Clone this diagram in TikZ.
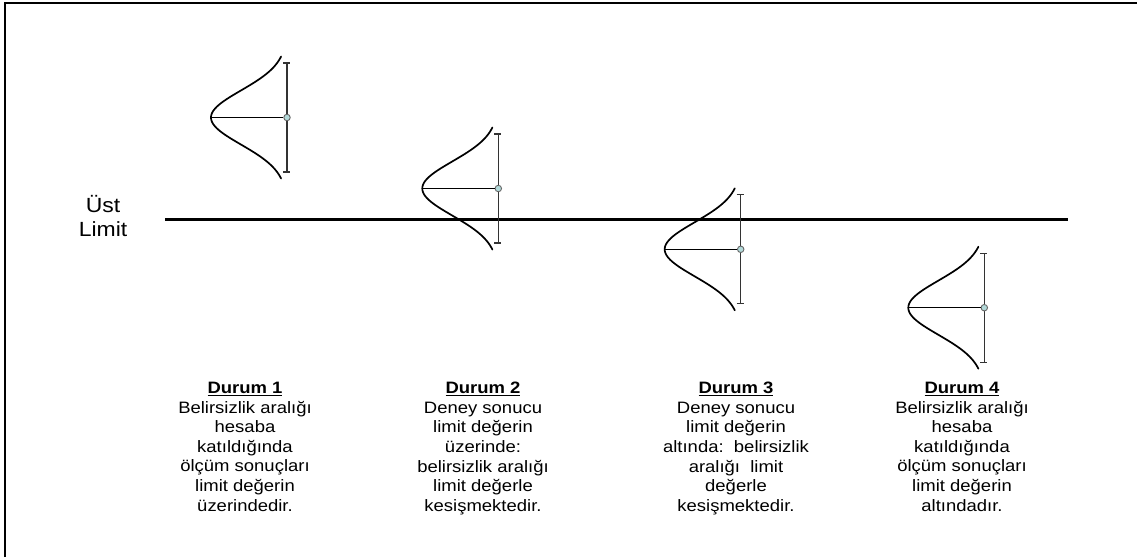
\documentclass[tikz,border=0pt]{standalone}
\usepackage{fontspec}
\setmainfont[FakeStretch=1.12]{Liberation Sans}
\begin{document}
\begin{tikzpicture}[x=1pt,y=-1pt,
  durum/.style={align=center,anchor=north,inner sep=0pt,font=\fontsize{16.5}{19.6}\selectfont},
  bell/.style={line width=1.7pt,line cap=round},
  errbar/.style={line width=1.1pt,black!80}]
\useasboundingbox (0,0) rectangle (1137,557);
% frame
\draw[line width=1.4pt] (5,557) -- (5,3) -- (1137,3);
% upper limit
\coordinate (limL) at (165,219);
\coordinate (limR) at (1068,219);
\draw[line width=3pt] (limL) -- (limR);
\node[align=center,anchor=north,inner sep=0pt,font=\fontsize{20.5}{24.5}\selectfont] (ust) at (103,195) {Üst\\Limit};
% four cases
\foreach \vx/\cy/\nm in {287/117.5/a, 498.3/188.5/b, 740.7/249.3/c, 984.3/307.7/d} {
  \draw[errbar] (\vx,\cy-54.5) -- (\vx,\cy+54.5);
  \draw[errbar] (\vx-4,\cy-54.5) -- (\vx+3,\cy-54.5);
  \draw[errbar] (\vx-4,\cy+54.5) -- (\vx+3,\cy+54.5);
  \draw[bell] plot[domain=-61:61,samples=81,smooth] ({\vx-76*exp(-(\x)^2/1458)},{\cy+\x});
  \coordinate (pk\nm) at (\vx-76,\cy);
  \node[circle,draw=black!60,fill=teal!30,line width=0.9pt,inner sep=0pt,minimum size=6.5pt] (pt\nm) at (\vx,\cy) {};
  \draw[line width=1pt] (pk\nm) -- (pt\nm);
}
\node[durum] (durumA) at (245,382) {\underline{\textbf{Durum 1}}\\Belirsizlik aralığı\\hesaba\\katıldığında\\ölçüm sonuçları\\limit değerin\\üzerindedir.};
\node[durum] (durumB) at (483,382) {\underline{\textbf{Durum 2}}\\Deney sonucu\\limit değerin\\üzerinde:\\belirsizlik aralığı\\limit değerle\\kesişmektedir.};
\node[durum] (durumC) at (736,382) {\underline{\textbf{Durum 3}}\\Deney sonucu\\limit değerin\\altında:\ \ belirsizlik\\aralığı\ \ limit\\değerle\\kesişmektedir.};
\node[durum] (durumD) at (962,382) {\underline{\textbf{Durum 4}}\\Belirsizlik aralığı\\hesaba\\katıldığında\\ölçüm sonuçları\\limit değerin\\altındadır.};
\end{tikzpicture}
\end{document}
